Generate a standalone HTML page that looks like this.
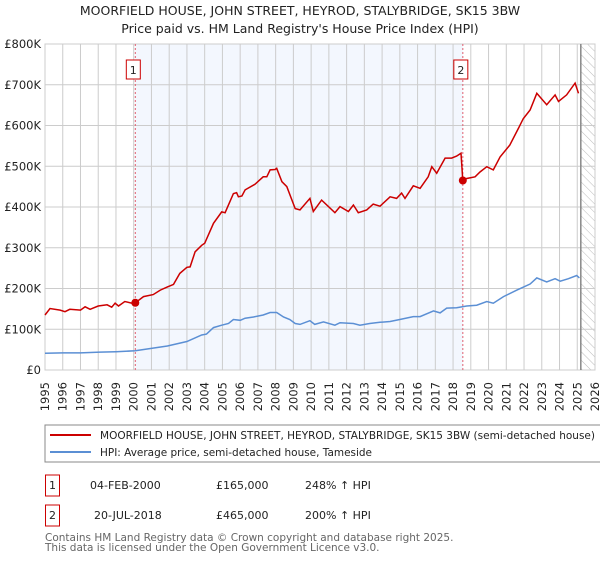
<!DOCTYPE html>
<html><head><meta charset="utf-8"><style>
body{margin:0;background:#fff;font-family:"Liberation Sans","DejaVu Sans",sans-serif;}
svg text{font-family:"DejaVu Sans","Liberation Sans",sans-serif;}
</style></head><body>
<svg id="c" width="600" height="560" xmlns="http://www.w3.org/2000/svg">
<defs><pattern id="hatch" width="6" height="6" patternUnits="userSpaceOnUse" patternTransform="rotate(-45)"><line x1="0" y1="0" x2="0" y2="6" stroke="#bbb" stroke-width="1"/></pattern></defs>
<text x="300" y="15" text-anchor="middle" font-size="12.5" fill="#222">MOORFIELD HOUSE, JOHN STREET, HEYROD, STALYBRIDGE, SK15 3BW</text>
<text x="300" y="33" text-anchor="middle" font-size="12.5" fill="#222">Price paid vs. HM Land Registry's House Price Index (HPI)</text>
<g id="plot"></g>
<rect x="45" y="425" width="560" height="37" fill="#fff" stroke="#888"/>
<line x1="50" y1="435" x2="91" y2="435" stroke="#cc0000" stroke-width="2"/>
<text x="100" y="439" font-size="10.5" textLength="495" lengthAdjust="spacingAndGlyphs" fill="#222">MOORFIELD HOUSE, JOHN STREET, HEYROD, STALYBRIDGE, SK15 3BW (semi-detached house)</text>
<line x1="50" y1="452" x2="91" y2="452" stroke="#5b8fd4" stroke-width="2"/>
<text x="100" y="456" font-size="10.5" textLength="272" lengthAdjust="spacingAndGlyphs" fill="#222">HPI: Average price, semi-detached house, Tameside</text>
<g font-size="11" fill="#222">
<rect x="45.5" y="475" width="14" height="21" fill="#fff" stroke="#c00"/><text x="52.5" y="489" text-anchor="middle">1</text>
<text x="90" y="489">04-FEB-2000</text><text x="216" y="489">£165,000</text><text x="305" y="489">248% ↑ HPI</text></g>
<g font-size="11" fill="#222">
<rect x="45.5" y="505" width="14" height="21" fill="#fff" stroke="#c00"/><text x="52.5" y="519" text-anchor="middle">2</text>
<text x="94" y="519">20-JUL-2018</text><text x="216" y="519">£465,000</text><text x="305" y="519">200% ↑ HPI</text></g>
<text x="45" y="541" font-size="10.5" fill="#666">Contains HM Land Registry data © Crown copyright and database right 2025.</text>
<text x="45" y="551" font-size="10.5" fill="#666">This data is licensed under the Open Government Licence v3.0.</text>
</svg>
<script>
const yTicks=[0,100,200,300,400,500,600,700,800];
const yTickLabels=["£0","£100K","£200K","£300K","£400K","£500K","£600K","£700K","£800K"];
const xYears=[1995,1996,1997,1998,1999,2000,2001,2002,2003,2004,2005,2006,2007,2008,2009,2010,2011,2012,2013,2014,2015,2016,2017,2018,2019,2020,2021,2022,2023,2024,2025,2026];
const redX=[1995,1995.28,1995.85,1996.13,1996.4,1997,1997.26,1997.54,1998,1998.5,1998.76,1998.95,1999.14,1999.5,1999.9,2000.09,2000.55,2001.1,2001.5,2001.9,2002.24,2002.6,2003,2003.18,2003.46,2003.83,2004,2004.5,2004.96,2005.15,2005.62,2005.8,2005.9,2006.1,2006.28,2006.84,2007.3,2007.5,2007.69,2007.97,2008.06,2008.35,2008.63,2009.1,2009.37,2009.93,2010.12,2010.59,2011.34,2011.63,2012.1,2012.38,2012.66,2013.13,2013.5,2013.88,2014.45,2014.82,2015.1,2015.29,2015.76,2016.14,2016.6,2016.8,2017.08,2017.55,2017.92,2018.2,2018.45,2018.55,2018.77,2019.24,2019.52,2019.9,2020.27,2020.65,2021.2,2021.68,2021.96,2022.34,2022.72,2023.28,2023.75,2023.94,2024.4,2024.88,2025.07];
const redY=[135,151,147,143,149,147,155,149,157,160,154,164,157,168,164,165,180,185,196,204,210,237,252,253,290,306,311,360,388,386,433,435,425,427,442,456,474,474,491,492,495,462,450,396,393,421,389,417,386,401,389,405,386,393,407,402,425,421,434,421,452,446,474,499,483,520,520,525,532,465,470,474,486,499,491,523,552,593,617,638,679,651,675,659,675,704,679];
const blueX=[1995,1996,1997,1998.1,1999,2000.09,2001.9,2003,2003.83,2004.1,2004.5,2004.96,2005.34,2005.62,2006,2006.28,2006.75,2007.3,2007.69,2008.06,2008.44,2008.8,2009.1,2009.37,2009.93,2010.2,2010.7,2011.34,2011.63,2012.38,2012.75,2013.3,2013.88,2014.45,2015,2015.76,2016.14,2016.9,2017.27,2017.64,2018.2,2018.77,2019.33,2019.9,2020.27,2020.84,2021.6,2022.34,2022.72,2023.28,2023.75,2024.04,2024.5,2024.97,2025.12];
const blueY=[41,42,42,44,45,47,59,70,86,88,104,110,114,124,122,127,130,135,141,141,130,124,114,112,121,112,118,110,116,114,110,114,117,119,124,131,131,145,140,152,153,157,159,168,164,180,196,211,226,216,224,218,224,232,226];
const saleX=[2000.09,2018.55];
const saleY=[165,465];
const saleLabels=["1","2"];
const L=45,R=595,T=44,B=370,X0=1995,X1=2026,YMAX=800;
const sx=v=>L+(v-X0)/(X1-X0)*(R-L);
const sy=v=>B-v/YMAX*(B-T);
const NS="http://www.w3.org/2000/svg";
const g=document.getElementById('plot');
function mk(t,a,p){const e=document.createElementNS(NS,t);for(const k in a)e.setAttribute(k,a[k]);(p||g).appendChild(e);return e;}
let e;
e=mk('rect',{x:sx(saleX[0]),y:T,width:sx(saleX[1])-sx(saleX[0]),height:B-T,fill:'#eef3fd',opacity:0.7});


e=mk('rect',{x:sx(2025.2),y:T,width:R-sx(2025.2),height:B-T,fill:'url(#hatch)'});


yTicks.forEach((v,i)=>{
 e=mk('line',{x1:L,x2:R,y1:sy(v),y2:sy(v),stroke:'#ccc'});
 
 
 e=mk('text',{x:L-4,y:sy(v)+4,'text-anchor':'end','font-size':11.5,fill:'#222'});e.textContent=yTickLabels[i];
 
 
});
xYears.forEach(v=>{
 e=mk('line',{x1:sx(v),x2:sx(v),y1:T,y2:B,stroke:'#ccc'});
 
 
 e=mk('text',{x:0,y:0,'text-anchor':'end','font-size':11.5,fill:'#222',transform:`translate(${sx(v)+4},382) rotate(-90)`});e.textContent=v;
 
 
});
e=mk('rect',{x:L,y:T,width:R-L,height:B-T,fill:'none',stroke:'#ccc'});


e=mk('line',{x1:sx(2025.2),x2:sx(2025.2),y1:T,y2:B,stroke:'#888','stroke-width':1.5});


saleX.forEach((v,i)=>{
 e=mk('line',{x1:sx(v),x2:sx(v),y1:T,y2:B,stroke:'#e06070','stroke-dasharray':'2,2'});
 
 
});
const pts=(xs,ys)=>xs.map((x,i)=>sx(x).toFixed(1)+','+sy(ys[i]).toFixed(1)).join(' ');
e=mk('polyline',{points:pts(blueX,blueY),fill:'none',stroke:'#5b8fd4','stroke-width':1.5});


e=mk('polyline',{points:pts(redX,redY),fill:'none',stroke:'#cc0000','stroke-width':1.5});


saleX.forEach((v,i)=>{
 e=mk('circle',{cx:sx(v),cy:sy(saleY[i]),r:4,fill:'#cc0000'});
 
 
 const bx=sx(v)-9;
 e=mk('rect',{x:bx,y:60,width:14,height:19,fill:'#fff',stroke:'#c00'});
 
 
 e=mk('text',{x:bx+7,y:74,'text-anchor':'middle','font-size':11,fill:'#222'});e.textContent=saleLabels[i];
 
 
});
</script>
</body></html>
